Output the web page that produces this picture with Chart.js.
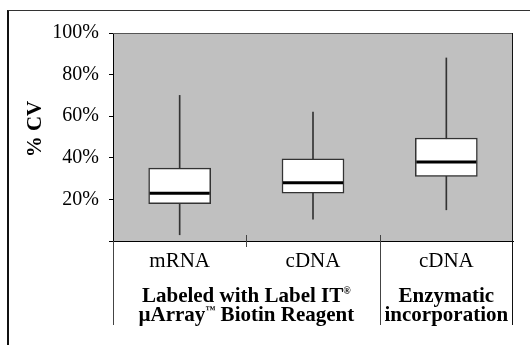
<!DOCTYPE html>
<html>
<head>
<meta charset="utf-8">
<script src="https://cdn.jsdelivr.net/npm/chart.js@4"></script>
<style>
  body { margin: 0; background: #fff; }
  #frame { position: absolute; left: 7px; top: 10px; width: 600px; height: 400px;
           border-left: 2px solid #111; border-top: 1px solid #333; }
  #chart { position: absolute; left: 0; top: 0; }
</style>
</head>
<body>
<div id="frame"></div>
<canvas id="chart" width="530" height="345"></canvas>
<script>
// data (% CV)
const categories = ['mRNA', 'cDNA', 'cDNA'];
const whiskerLow = [3, 10.5, 15];
const boxLow = [18, 23, 31];
const medians = [23, 28, 38];
const boxHigh = [35, 39.5, 49.5];
const whiskerHigh = [70, 62, 88];
const yTickLabels = ['', '20%', '40%', '60%', '80%', '100%'];
const yTitle = '% CV';
// ^ marks a superscript character
const groupLabels = [
  ['Labeled with Label IT^®', 'µArray^™ Biotin Reagent'],
  ['Enzymatic', 'incorporation']
];
const groupFirst = [0, 2];
const groupLast = [1, 2];

const SERIF = "'Liberation Serif', 'Times New Roman', serif";

// split "abc^®def" into runs
function runs(str) {
  const out = [];
  const parts = str.split('^');
  out.push([parts[0], false]);
  for (let i = 1; i < parts.length; i++) {
    out.push([parts[i].charAt(0), true]);
    if (parts[i].length > 1) out.push([parts[i].slice(1), false]);
  }
  return out;
}

function drawRuns(ctx, str, cx, y) {
  const r = runs(str);
  const big = 'bold 21px ' + SERIF, small = 'bold 10px ' + SERIF;
  let w = 0;
  r.forEach(([t, sup]) => { ctx.font = sup ? small : big; w += ctx.measureText(t).width; });
  let x = cx - w / 2;
  ctx.textAlign = 'left';
  r.forEach(([t, sup]) => {
    ctx.font = sup ? small : big;
    ctx.fillText(t, x, sup ? y - 8 : y);
    x += ctx.measureText(t).width;
  });
}

const extras = {
  id: 'extras',
  beforeDraw(chart) {
    const { ctx, chartArea: a } = chart;
    ctx.save();
    ctx.fillStyle = '#c0c0c0';
    ctx.fillRect(a.left, a.top, a.right - a.left, a.bottom - a.top);
    ctx.restore();
  },
  afterDatasetsDraw(chart) {
    const { ctx } = chart;
    const x = chart.scales.x, y = chart.scales.y;
    ctx.save();
    ctx.strokeStyle = '#000';
    ctx.lineWidth = 3;
    medians.forEach((m, i) => {
      const cx = x.getPixelForValue(i);
      const py = y.getPixelForValue(m);
      ctx.beginPath();
      ctx.moveTo(cx - 30, py);
      ctx.lineTo(cx + 30, py);
      ctx.stroke();
    });
    ctx.restore();
  },
  afterDraw(chart) {
    const { ctx, chartArea: a } = chart;
    const x = chart.scales.x;
    const bottom = 325;
    ctx.save();
    // top and right edges of the plot
    ctx.strokeStyle = '#555';
    ctx.lineWidth = 1;
    ctx.beginPath();
    ctx.moveTo(a.left, a.top + 0.5);
    ctx.lineTo(a.right, a.top + 0.5);
    ctx.stroke();
    ctx.strokeStyle = '#111';
    ctx.beginPath();
    ctx.moveTo(a.right - 0.5, a.top);
    ctx.lineTo(a.right - 0.5, bottom);
    ctx.stroke();
    // left separator below the axis
    ctx.strokeStyle = '#444';
    ctx.beginPath();
    ctx.moveTo(a.left + 0.5, a.bottom);
    ctx.lineTo(a.left + 0.5, bottom);
    ctx.stroke();
    // category boundaries
    for (let i = 0; i < categories.length - 1; i++) {
      const bx = Math.round((x.getPixelForValue(i) + x.getPixelForValue(i + 1)) / 2) + 0.5;
      const isGroupEdge = groupLast.includes(i);
      ctx.beginPath();
      ctx.moveTo(bx, a.bottom - 6);
      ctx.lineTo(bx, isGroupEdge ? bottom : a.bottom + 6);
      ctx.stroke();
    }
    // category labels
    ctx.fillStyle = '#000';
    ctx.font = '21px ' + SERIF;
    ctx.textAlign = 'center';
    ctx.textBaseline = 'alphabetic';
    categories.forEach((c, i) => ctx.fillText(c, x.getPixelForValue(i), 267));
    // group labels
    groupLabels.forEach((lines, g) => {
      const cx = (x.getPixelForValue(groupFirst[g]) + x.getPixelForValue(groupLast[g])) / 2;
      lines.forEach((l, k) => drawRuns(ctx, l, cx, 302 + k * 19));
    });
    // y title
    ctx.translate(36, 129);
    ctx.rotate(-Math.PI / 2);
    ctx.font = 'bold 21px ' + SERIF;
    ctx.textAlign = 'center';
    ctx.textBaseline = 'middle';
    ctx.fillText(yTitle, 0, 0);
    ctx.restore();
  }
};

new Chart(document.getElementById('chart'), {
  type: 'bar',
  data: {
    labels: categories,
    datasets: [
      {
        label: 'box',
        data: categories.map((c, i) => [boxLow[i], boxHigh[i]]),
        backgroundColor: '#fff',
        borderColor: '#333',
        borderWidth: 1.5,
        borderSkipped: false,
        barThickness: 62,
        grouped: false,
        order: 0
      },
      {
        label: 'whisker',
        data: categories.map((c, i) => [whiskerLow[i], whiskerHigh[i]]),
        backgroundColor: '#333',
        borderWidth: 0,
        barThickness: 1,
        grouped: false,
        order: 1
      }
    ]
  },
  options: {
    responsive: false,
    animation: false,
    devicePixelRatio: 1,
    layout: { padding: { left: 0, top: 33, right: 17, bottom: 0 } },
    plugins: { legend: { display: false }, tooltip: { enabled: false } },
    scales: {
      x: {
        offset: true,
        grid: { display: false },
        border: { display: true, color: '#000', width: 1 },
        ticks: { display: false },
        afterFit(s) { s.height = 104; }
      },
      y: {
        min: 0,
        max: 100,
        ticks: {
          stepSize: 20,
          padding: 10,
          color: '#000',
          font: { family: SERIF, size: 20 },
          callback: (v, i) => yTickLabels[i]
        },
        grid: { drawOnChartArea: false, drawTicks: true, tickLength: 4, color: '#000' },
        border: { display: true, color: '#000', width: 1 },
        afterFit(s) { s.width = 113; }
      }
    }
  },
  plugins: [extras]
});
</script>
</body>
</html>
